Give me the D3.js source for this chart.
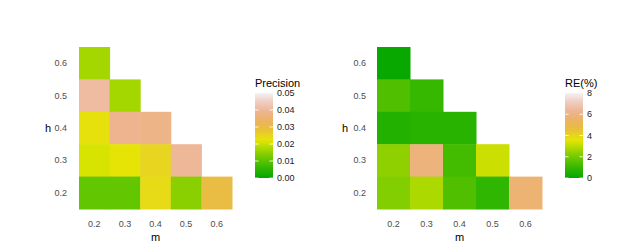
<!DOCTYPE html>
<html>
<head>
<meta charset="utf-8">
<script src="https://cdn.jsdelivr.net/npm/d3@7"></script>
<style>
  body { margin: 0; background: #fff; }
  text { font-family: "Liberation Sans", Arial, sans-serif; }
</style>
</head>
<body>
<script>
// Grid values
const mLevels = ['0.2', '0.3', '0.4', '0.5', '0.6'];
const hLevels = ['0.2', '0.3', '0.4', '0.5', '0.6'];

// cells as [m, h]
const cellM = ['0.2', '0.2', '0.3', '0.2', '0.3', '0.4', '0.2', '0.3', '0.4', '0.5', '0.2', '0.3', '0.4', '0.5', '0.6'];
const cellH = ['0.6', '0.5', '0.5', '0.4', '0.4', '0.4', '0.3', '0.3', '0.3', '0.3', '0.2', '0.2', '0.2', '0.2', '0.2'];

const precision = [0.017, 0.041, 0.017, 0.023, 0.039, 0.038, 0.021, 0.0225, 0.025, 0.040, 0.011, 0.011, 0.024, 0.0145, 0.030];
const rePct = [0.1, 1.4, 1.0, 0.6, 0.7, 0.75, 2.4, 5.9, 1.2, 3.2, 2.2, 2.8, 1.4, 0.9, 5.7];

const precisionTicks = [0, 0.01, 0.02, 0.03, 0.04, 0.05];
const reTicks = [0, 2, 4, 6, 8];

// terrain.colors(10)
const terrain = ['#00A600', '#2DB600', '#63C600', '#A0D600', '#E6E600', '#E8C32E', '#EBB25E', '#EDB48E', '#F0C9C0', '#F2F2F2'];
const ramp = d3.piecewise(d3.interpolateLab, terrain);

const width = 641;
const height = 251;

const svg = d3.select('body')
  .append('svg')
  .attr('width', width)
  .attr('height', height);

const panels = [
  {
    values: precision, ticks: precisionTicks, max: 0.05, fmt: d3.format('.2f'), title: 'Precision',
    x0: 79, x1: 232, yAxisX: 67, hX: 48, legX: 255
  },
  {
    values: rePct, ticks: reTicks, max: 8, fmt: d3.format('d'), title: 'RE(%)',
    x0: 377, x1: 542, yAxisX: 366, hX: 345, legX: 565
  }
];

const plotTop = 47;
const plotBottom = 209;

panels.forEach((p, pi) => {
  const x = d3.scaleBand().domain(mLevels).range([p.x0, p.x1]);
  const y = d3.scaleBand().domain(hLevels).range([plotBottom, plotTop]);
  const color = v => ramp(Math.max(0, Math.min(1, v / p.max)));

  const g = svg.append('g');

  g.selectAll('rect.cell')
    .data(p.values)
    .enter()
    .append('rect')
    .attr('class', 'cell')
    .attr('x', (d, i) => x(cellM[i]))
    .attr('y', (d, i) => y(cellH[i]))
    .attr('width', x.bandwidth() + 0.5)
    .attr('height', y.bandwidth() + 0.5)
    .attr('fill', d => color(d));

  // x tick labels
  g.selectAll('text.xt')
    .data(mLevels)
    .enter()
    .append('text')
    .attr('x', d => x(d) + x.bandwidth() / 2)
    .attr('y', 227)
    .attr('text-anchor', 'middle')
    .style('font-size', '9px')
    .attr('fill', '#4D4D4D')
    .text(d => d);

  // y tick labels
  g.selectAll('text.yt')
    .data(hLevels)
    .enter()
    .append('text')
    .attr('x', p.yAxisX)
    .attr('y', d => y(d) + y.bandwidth() / 2 + 3)
    .attr('text-anchor', 'end')
    .style('font-size', '9px')
    .attr('fill', '#4D4D4D')
    .text(d => d);

  // axis titles
  g.append('text')
    .attr('x', (p.x0 + p.x1) / 2)
    .attr('y', 241)
    .attr('text-anchor', 'middle')
    .style('font-size', '11px')
    .text('m');

  g.append('text')
    .attr('x', p.hX)
    .attr('y', (plotTop + plotBottom) / 2 + 4)
    .attr('text-anchor', 'middle')
    .style('font-size', '11px')
    .text('h');

  // legend
  const barW = 18;
  const ly = d3.scaleLinear().domain([0, p.max]).range([178, 93]);
  const gradId = `grad${pi}`;
  const grad = svg.append('defs').append('linearGradient')
    .attr('id', gradId)
    .attr('x1', 0).attr('y1', 1).attr('x2', 0).attr('y2', 0);
  d3.range(0, 1.0001, 0.05).forEach(t => {
    grad.append('stop').attr('offset', t).attr('stop-color', ramp(t));
  });

  const leg = svg.append('g');
  leg.append('text')
    .attr('x', p.legX)
    .attr('y', 87)
    .style('font-size', '11px')
    .text(p.title);

  leg.append('rect')
    .attr('x', p.legX)
    .attr('y', ly(p.max))
    .attr('width', barW)
    .attr('height', ly(0) - ly(p.max))
    .attr('fill', `url(#${gradId})`);

  p.ticks.forEach(t => {
    [[p.legX, p.legX + 3.6], [p.legX + barW - 3.6, p.legX + barW]].forEach(([a, b]) => {
      leg.append('line')
        .attr('x1', a).attr('x2', b)
        .attr('y1', ly(t)).attr('y2', ly(t))
        .attr('stroke', '#fff')
        .attr('stroke-width', 0.8);
    });
  });

  leg.selectAll('text.lt')
    .data(p.ticks)
    .enter()
    .append('text')
    .attr('x', p.legX + barW + 4)
    .attr('y', d => ly(d) + 3)
    .style('font-size', '9px')
    .attr('fill', '#1a1a1a')
    .text(d => p.fmt(d));
});
</script>
</body>
</html>
